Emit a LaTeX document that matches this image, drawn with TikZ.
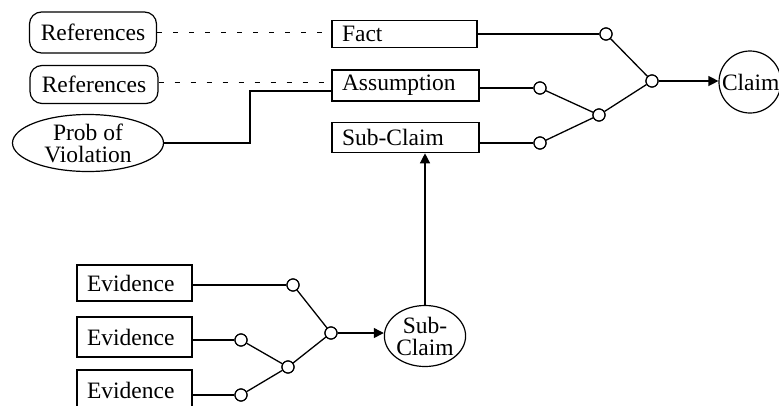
\documentclass[tikz,border=0pt]{standalone}
\usepackage{fontspec}
\setmainfont{Liberation Serif}
\usetikzlibrary{arrows.meta,shapes.geometric}
\begin{document}
\begin{tikzpicture}[x=1pt,y=-1pt,
  txt/.style={font=\fontsize{23.5}{22}\selectfont},
  box/.style={txt,draw,line width=1.6pt,rectangle,inner xsep=10pt,inner ysep=0pt,align=left,anchor=center},
  refbox/.style={txt,draw,line width=1.2pt,rounded corners=12pt,inner sep=0pt,align=center},
  oval/.style={txt,draw,line width=1.2pt,ellipse,inner sep=0pt,align=center},
  junc/.style={draw,line width=1.2pt,circle,fill=white,minimum width=12pt,minimum height=12pt,inner sep=0pt},
  conn/.style={line width=1.3pt},
  dconn/.style={line width=1pt,dash pattern=on 5pt off 11pt},
  arr/.style={line width=1.3pt,-{Triangle[length=10pt,width=10pt]}}]
\useasboundingbox (0,0) rectangle (779,405);
\clip (0,0) rectangle (779,405);
% left nodes
\node[refbox,minimum width=127pt,minimum height=41pt] (refa) at (93,32.5) {References};
\node[refbox,minimum width=128pt,minimum height=38pt] (refb) at (94,84.5) {References};
\node[oval,minimum width=151pt,minimum height=57pt] (prob) at (88,143) {Prob of\\Violation};
% middle boxes
\node[box,minimum width=145pt,minimum height=27pt,text width=125pt] (fact) at (404.5,34) {Fact};
\node[box,minimum width=147pt,minimum height=31pt,text width=127pt] (ass) at (405.5,85.5) {Assumption};
\node[box,minimum width=147pt,minimum height=30pt,text width=127pt] (scb) at (405.5,137.5) {Sub-Claim};
% claim
\node[txt,draw,line width=1.2pt,circle,minimum size=62pt,inner sep=0pt,text width=56pt,align=left] (claim) at (750,82) {Claim};
% junctions top
\node[junc] (jf) at (606,34) {};
\node[junc] (ja) at (540,88) {};
\node[junc] (js) at (540,143) {};
\node[junc] (jas) at (599,115) {};
\node[junc] (jc) at (652,81) {};
% bottom
\node[box,minimum width=115pt,minimum height=36pt,text width=95pt] (eva) at (134.5,283) {Evidence};
\node[box,minimum width=115pt,minimum height=40pt,text width=95pt] (evb) at (134.5,337) {Evidence};
\node[box,minimum width=115pt,minimum height=40pt,text width=95pt] (evc) at (134.5,390) {Evidence};
\node[oval,minimum width=80pt,minimum height=61pt] (sc) at (425,336) {Sub-\\Claim};
\node[junc] (je1) at (293,285) {};
\node[junc] (je2) at (241,340) {};
\node[junc] (je3) at (241,395) {};
\node[junc] (je23) at (288,367) {};
\node[junc] (jev) at (331,333) {};
% dashed references
\draw[dconn] (refa.east) -- (refa.east -| fact.west);
\coordinate (da) at ([yshift=3pt]ass.west);
\draw[dconn] (refb.east |- da) -- (da);
% prob of violation
\coordinate (pb) at (250,91);
\draw[conn] (prob.east) -| (pb) -- (pb -| ass.west);
% top tree
\draw[conn] (fact.east |- jf) -- (jf);
\draw[conn] (ass.east |- ja) -- (ja);
\draw[conn] (scb.east |- js) -- (js);
\draw[conn] (ja) -- (jas);
\draw[conn] (js) -- (jas);
\draw[conn] (jas) -- (jc);
\draw[conn] (jf) -- (jc);
\draw[arr] (jc) -- (jc -| claim.west);
% bottom tree
\draw[conn] (eva.east |- je1) -- (je1);
\draw[conn] (evb.east |- je2) -- (je2);
\draw[conn] (evc.east |- je3) -- (je3);
\draw[conn] (je2) -- (je23);
\draw[conn] (je3) -- (je23);
\draw[conn] (je23) -- (jev);
\draw[conn] (je1) -- (jev);
\draw[arr] (jev) -- (jev -| sc.west);
\draw[arr] (sc.north) -- (sc.north |- scb.south);
% redraw junctions on top
\foreach \j in {jf,ja,js,jas,jc,je1,je2,je3,je23,jev}{\node[junc] at (\j) {};}
\end{tikzpicture}
\end{document}
